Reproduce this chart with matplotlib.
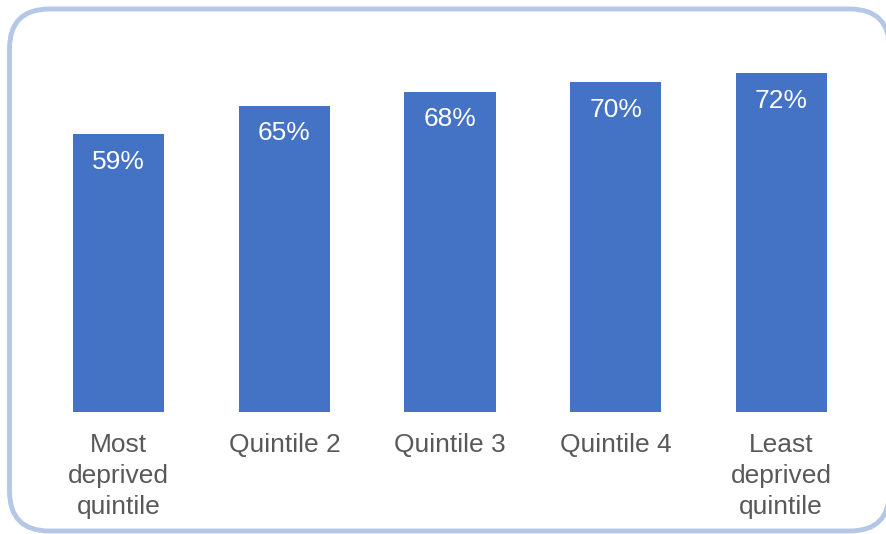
import matplotlib.pyplot as plt
from matplotlib.patches import FancyBboxPatch

# Datos
categorias = ['Most\ndeprived\nquintile', 'Quintile 2', 'Quintile 3', 'Quintile 4', 'Least\ndeprived\nquintile']
valores = [59, 65, 68, 70, 72]

plt.rcParams['font.family'] = ['Liberation Sans', 'DejaVu Sans']

W, H = 886, 534
fig = plt.figure(figsize=(W / 100, H / 100), dpi=100)

# Marco redondeado (detrás de los ejes)
marco = FancyBboxPatch((9.5 / W, 3 / H), 880 / W, 522 / H,
                       boxstyle="round,pad=0,rounding_size=0.045",
                       transform=fig.transFigure, facecolor='white',
                       edgecolor='#B4C7E7', linewidth=3.5, mutation_aspect=W / H,
                       zorder=-5)
fig.add_artist(marco)

# Ejes
ax = fig.add_axes([36 / W, (H - 412) / H, 828 / W, 377 / H], zorder=2)
ax.set_facecolor('none')
x = range(len(valores))
barras = ax.bar(x, valores, width=0.55, color='#4472C4')
ax.set_xlim(-0.5, 4.5)
ax.set_ylim(0, 80)

for xi, v in zip(x, valores):
    ax.text(xi, v - 5.9, f"{v}%", ha='center', va='center', color='white', fontsize=19)

ax.set_xticks(list(x))
ax.set_xticklabels(categorias, fontsize=19, color='#595959', linespacing=1.36)
ax.tick_params(axis='x', length=0, pad=15)
ax.set_yticks([])
for s in ax.spines.values():
    s.set_visible(False)

fig.savefig('out.png', dpi=100)
